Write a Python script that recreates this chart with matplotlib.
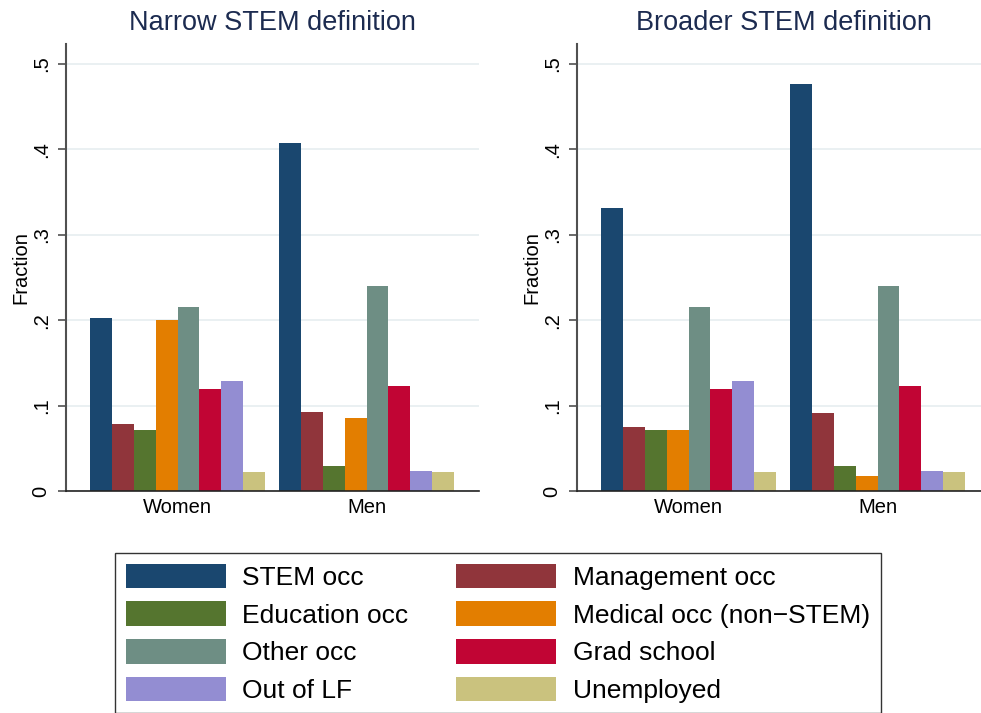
import numpy as np
import matplotlib
matplotlib.use("Agg")
import matplotlib.pyplot as plt
from matplotlib.patches import Patch

plt.rcParams['font.family'] = ['Liberation Sans', 'DejaVu Sans']

# data
groups = ["Women", "Men"]
categories = ["STEM occ", "Management occ", "Education occ", "Medical occ (non\u2212STEM)",
              "Other occ", "Grad school", "Out of LF", "Unemployed"]

narrow_women = [0.202, 0.079, 0.072, 0.200, 0.216, 0.119, 0.129, 0.022]
narrow_men = [0.407, 0.093, 0.029, 0.086, 0.240, 0.123, 0.023, 0.022]
broad_women = [0.331, 0.075, 0.072, 0.071, 0.216, 0.119, 0.129, 0.022]
broad_men = [0.476, 0.091, 0.029, 0.018, 0.240, 0.123, 0.023, 0.022]

panel_titles = ["Narrow STEM definition", "Broader STEM definition"]
yticks = [0, 0.1, 0.2, 0.3, 0.4, 0.5]
ytick_labels = ["0", ".1", ".2", ".3", ".4", ".5"]

colors = ["#1a476f", "#90353b", "#55752f", "#e37e00",
          "#6e8e84", "#c10534", "#938dd2", "#cac27e"]
title_color = "#1c2b50"

fig = plt.figure(figsize=(9.81, 7.13), dpi=100)
W, H = 981, 713
axes_px = [(66, 44, 413, 447), (577, 44, 413, 447)]

group_gap = 0.64
n = len(categories)

for p, (x0, y0, w, h) in enumerate(axes_px):
    ax = fig.add_axes([x0 / W, 1 - (y0 + h) / H, w / W, h / H])
    data = [narrow_women, narrow_men] if p == 0 else [broad_women, broad_men]
    for g, vals in enumerate(data):
        xs = np.arange(n) + g * (n + group_gap)
        ax.bar(xs, vals, width=1.0, color=colors, linewidth=0)
    centers = [(n - 1) / 2 + g * (n + group_gap) for g in range(len(groups))]
    ax.set_xticks(centers)
    ax.set_xticklabels(groups, fontsize=14.5)
    ax.tick_params(axis='x', length=0, pad=5)
    ax.set_xlim(-1.597, 17.28)
    ax.set_ylim(0, 0.5234)
    ax.set_yticks(yticks)
    ax.set_yticklabels(ytick_labels, fontsize=14.5, rotation=90, va='center')
    ax.tick_params(axis='y', length=6, width=1.2, color='#505050', pad=5)
    ax.set_ylabel("Fraction", fontsize=14.5, labelpad=1)
    ax.grid(axis='y', color='#e6eef0', linewidth=1.2)
    ax.set_axisbelow(True)
    for s in ['top', 'right']:
        ax.spines[s].set_visible(False)
    ax.spines['left'].set_color('#505050')
    ax.spines['left'].set_linewidth(1.5)
    ax.spines['bottom'].set_color('#222222')
    ax.spines['bottom'].set_linewidth(1.2)
    ax.set_title(panel_titles[p], fontsize=19.5, color=title_color, pad=10)

handles = [Patch(facecolor=c, edgecolor='none') for c in colors]
# legend fills row by row: reorder for matplotlib column-major filling
order = [0, 2, 4, 6, 1, 3, 5, 7]
leg = fig.legend([handles[i] for i in order], [categories[i] for i in order],
                 ncol=2, loc='upper left', bbox_to_anchor=(115 / W, 1 - 553 / H),
                 fontsize=19, frameon=True, fancybox=False, edgecolor='black',
                 handlelength=3.79, handleheight=1.06, handletextpad=0.64,
                 columnspacing=1.8, labelspacing=0.43, borderpad=0.4,
                 borderaxespad=0)
leg.get_frame().set_linewidth(1.0)

plt.savefig("out.png", dpi=100)
